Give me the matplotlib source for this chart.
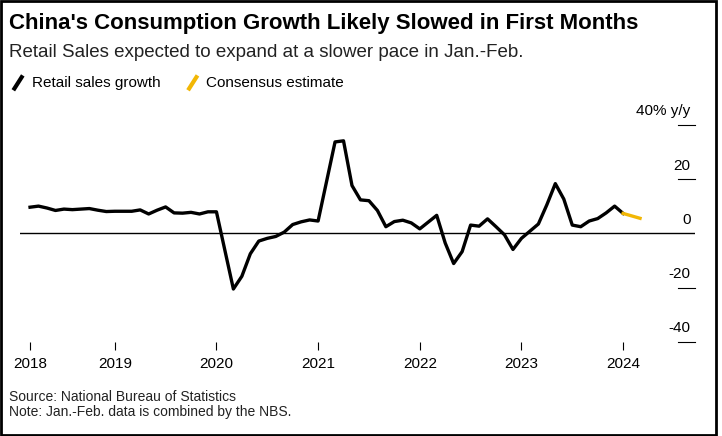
import matplotlib; matplotlib.use('Agg')
import matplotlib.pyplot as plt
from matplotlib.patches import Rectangle
plt.rcParams['font.family']=['Liberation Sans','DejaVu Sans']

# monthly y/y %, Jan-Feb combined (plotted at Feb)
y2018=[9.7,10.1,9.4,8.5,9.0,8.8,9.0,9.2,8.6,8.1,8.2]
y2019=[8.2,8.7,7.2,8.6,9.8,7.6,7.5,7.8,7.2,8.0,8.0]
y2020=[-20.5,-15.8,-7.5,-2.8,-1.8,-1.1,0.5,3.3,4.3,5.0,4.6]
y2021=[33.8,34.2,17.7,12.4,12.1,8.5,2.5,4.4,4.9,3.9,1.7]
y2022=[6.7,-3.5,-11.1,-6.7,3.1,2.7,5.4,2.5,-0.5,-5.9,-1.8]
y2023=[3.5,10.6,18.4,12.7,3.1,2.5,4.6,5.5,7.6,10.1,7.4]
est_2024=5.6

vals=[];xs=[]
for yr,arr in zip(range(2018,2024),[y2018,y2019,y2020,y2021,y2022,y2023]):
    for m,v in enumerate(arr):
        xs.append(yr+(m+2)/12); vals.append(v)

fig=plt.figure(figsize=(7.22,4.36),dpi=100)
ax=fig.add_axes([0.028,0.216,0.935,0.497])
ax.plot(xs,vals,color='black',lw=2.4,solid_joinstyle='round')
ax.plot([xs[-1],2024+2/12],[vals[-1],est_2024],color='#F2B705',lw=2.4)
ax.axhline(0,color='black',lw=1)
ax.set_xlim(2018.07,2024.71);ax.set_ylim(-40,40)
for s in ax.spines.values(): s.set_visible(False)
ax.set_yticks([])
ax.set_xticks([2018.17]+list(range(2019,2025)))
ax.set_xticklabels([str(y) for y in range(2018,2025)],fontsize=11)
ax.tick_params(axis='x',length=6,color='black',pad=5)
for v,lab in [(40,'40% y/y'),(20,'20'),(0,'0'),(-20,'-20'),(-40,'-40')]:
    ax.text(0.993,v+2.5,lab,transform=ax.get_yaxis_transform(),ha='right',va='bottom',fontsize=11)
    if v!=0:
        ax.plot([0.975,1.0],[v,v],transform=ax.get_yaxis_transform(),color='black',lw=0.8,clip_on=False)

fig.text(0.012,0.945,"China's Consumption Growth Likely Slowed in First Months",fontsize=16,fontweight='bold',va='center')
fig.text(0.012,0.88,"Retail Sales expected to expand at a slower pace in Jan.-Feb.",fontsize=13.5,va='center',color='#222222')
fig.lines.append(plt.Line2D([0.02,0.03],[0.797,0.823],color='black',lw=3,transform=fig.transFigure))
fig.text(0.045,0.81,"Retail sales growth",fontsize=11,va='center')
fig.lines.append(plt.Line2D([0.262,0.272],[0.797,0.823],color='#F2B705',lw=3,transform=fig.transFigure))
fig.text(0.285,0.81,"Consensus estimate",fontsize=11,va='center')
fig.text(0.012,0.09,"Source: National Bureau of Statistics",fontsize=10,va='center',color='#222222')
fig.text(0.012,0.055,"Note: Jan.-Feb. data is combined by the NBS.",fontsize=10,va='center',color='#222222')
fig.patches.append(Rectangle((0.002,0.003),0.99,0.994,transform=fig.transFigure,fill=False,edgecolor='black',lw=2))
plt.savefig('out.png',dpi=100,facecolor='white')
